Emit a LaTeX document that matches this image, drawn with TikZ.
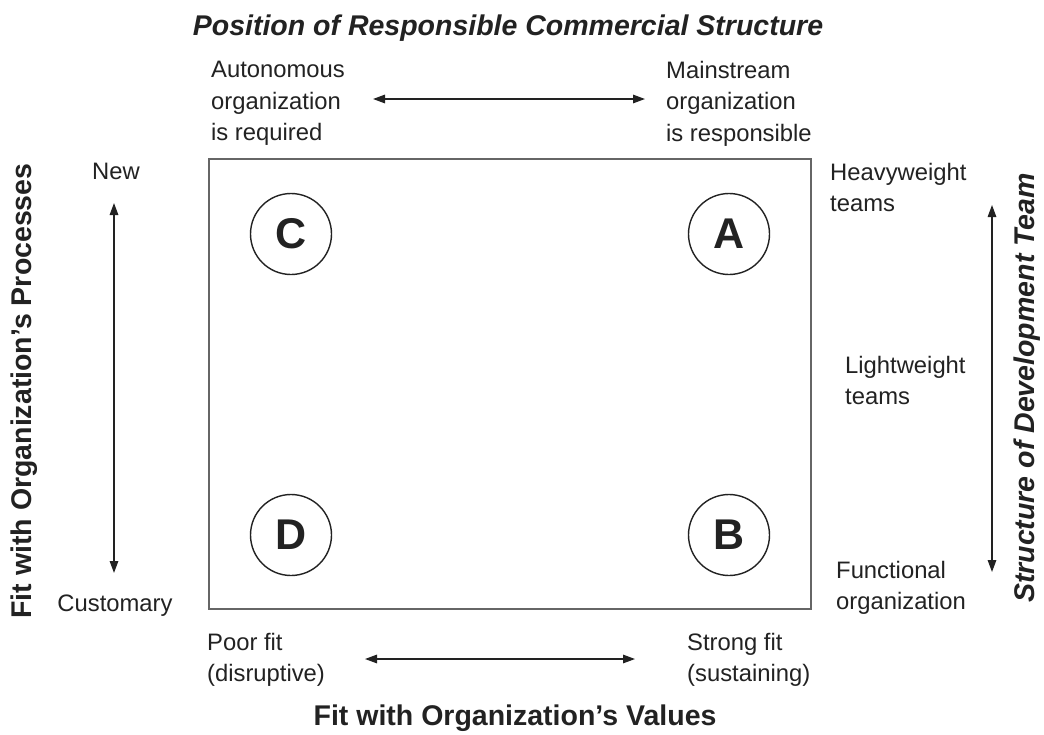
\documentclass[tikz,border=0pt]{standalone}
\usepackage{fontspec}
\setmainfont{Liberation Sans}
\usetikzlibrary{arrows.meta}
\definecolor{ink}{HTML}{222222}
\definecolor{boxgray}{HTML}{666666}
\begin{document}
\begin{tikzpicture}[x=1pt,y=-1pt,
  body/.style={inner sep=0pt,text=ink,font=\fontsize{23.8}{31.5}\selectfont,align=left},
  ttl/.style={inner sep=0pt,text=ink,font=\fontsize{28.5}{34}\selectfont\bfseries},
  letter/.style={circle,draw=ink,line width=1.4pt,minimum size=81pt,inner sep=0pt,text=ink,font=\fontsize{43}{43}\selectfont\bfseries},
  dbl/.style={draw=ink,line width=1.4pt,{Triangle[length=12pt,width=8.5pt]}-{Triangle[length=12pt,width=8.5pt]}}]
\useasboundingbox[fill=white] (0,0) rectangle (1044,734);
% frame
\node[draw=boxgray,line width=2.2pt,minimum width=602pt,minimum height=450pt,inner sep=0pt] (box) at (510,384) {};
% circles
\node[letter] (cC) at (291,234) {C};
\node[letter] (cA) at (729,234) {A};
\node[letter] (cD) at (291,535) {D};
\node[letter] (cB) at (729,535) {B};
% titles
\node[ttl,anchor=base] (title) at (508,35) {\itshape Position of Responsible Commercial Structure};
\node[ttl,anchor=base] (values) at (515,725) {Fit with Organization’s Values};
\node[ttl,anchor=base,rotate=90] (procs) at (31,391) {Fit with Organization’s Processes};
\node[ttl,anchor=base,rotate=90] (struct) at (1034,388) {\itshape Structure of Development Team};
% top labels
\node[body,anchor=north west] (autreq) at (211,61) {Autonomous\\organization\\is required};
\node[body,anchor=north west] (mainresp) at (666,61) {Mainstream\\organization\\is responsible};
% bottom labels
\node[body,anchor=north west] (poor) at (207,633) {Poor fit\\(disruptive)};
\node[body,anchor=north west] (strong) at (687,633) {Strong fit\\(sustaining)};
% left labels
\node[body,anchor=base] (new) at (116,179) {New};
\node[body,anchor=base] (cust) at (115,611) {Customary};
% right labels
\node[body,anchor=north west] (heavy) at (830,163) {Heavyweight\\teams};
\node[body,anchor=north west] (light) at (845,356) {Lightweight\\teams};
\node[body,anchor=north west] (func) at (836,561) {Functional\\organization};
% arrows
\coordinate (tl) at (373,99); \coordinate (tr) at (645,99);
\coordinate (bl) at (365,659); \coordinate (br) at (635,659);
\coordinate (lt) at (114,203); \coordinate (lb) at (114,573);
\coordinate (rt) at (992,205); \coordinate (rb) at (992,572);
\draw[dbl] (tl) -- (tr);
\draw[dbl] (bl) -- (br);
\draw[dbl] (lt) -- (lb);
\draw[dbl] (rt) -- (rb);
\end{tikzpicture}
\end{document}
